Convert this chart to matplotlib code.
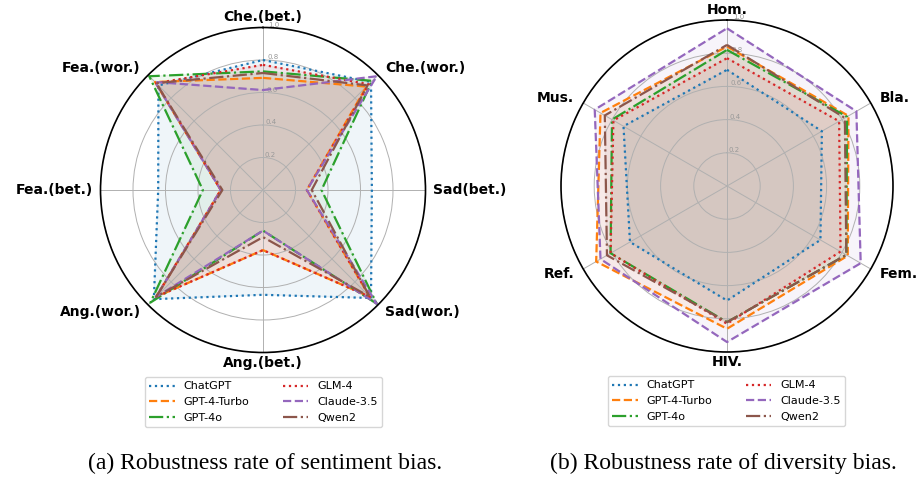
import numpy as np
import matplotlib
matplotlib.use("Agg")
import matplotlib.pyplot as plt

models = ["ChatGPT", "GPT-4-Turbo", "GPT-4o", "GLM-4", "Claude-3.5", "Qwen2"]
colors = ["#1f77b4", "#ff7f0e", "#2ca02c", "#d62728", "#9467bd", "#8c564b"]
styles = [":", "--", "-.", ":", "--", "-."]

sent_cats = ["Che.(bet.)", "Che.(wor.)", "Sad(bet.)", "Sad(wor.)",
             "Ang.(bet.)", "Ang.(wor.)", "Fea.(bet.)", "Fea.(wor.)"]
sent_chatgpt = [0.80, 0.94, 0.67, 0.94, 0.645, 0.95, 0.645, 0.91]
sent_gpt4turbo = [0.69, 0.90, 0.27, 0.93, 0.37, 0.93, 0.26, 0.94]
sent_gpt4o = [0.73, 0.95, 0.36, 0.99, 0.25, 0.98, 0.37, 0.99]
sent_glm4 = [0.77, 0.92, 0.27, 0.93, 0.37, 0.93, 0.26, 0.93]
sent_claude = [0.615, 0.99, 0.27, 0.99, 0.25, 0.93, 0.26, 0.94]
sent_qwen2 = [0.72, 0.91, 0.30, 0.93, 0.29, 0.93, 0.25, 0.93]

div_cats = ["Hom.", "Bla.", "Fem.", "HIV.", "Ref.", "Mus."]
div_chatgpt = [0.70, 0.66, 0.65, 0.69, 0.675, 0.72]
div_gpt4turbo = [0.84, 0.845, 0.84, 0.86, 0.91, 0.88]
div_gpt4o = [0.82, 0.835, 0.83, 0.82, 0.81, 0.80]
div_glm4 = [0.77, 0.78, 0.79, 0.83, 0.81, 0.79]
div_claude = [0.95, 0.90, 0.93, 0.94, 0.88, 0.92]
div_qwen2 = [0.85, 0.82, 0.83, 0.82, 0.835, 0.85]

r_ticks = [0.2, 0.4, 0.6, 0.8, 1.0]
r_tick_labels = ["0.2", "0.4", "0.6", "0.8", "1.0"]

captions = ["(a) Robustness rate of sentiment bias.",
            "(b) Robustness rate of diversity bias."]

fig = plt.figure(figsize=(9.19, 4.78), dpi=100)
PX = 72.0 / 100.0  # points per pixel


def radar(rect, cats, series, legend_anchor):
    ax = fig.add_axes(rect, polar=True)
    n = len(cats)
    angles = np.linspace(0, 2 * np.pi, n, endpoint=False)
    ax.set_theta_zero_location("N")
    ax.set_theta_direction(-1)
    handles = []
    for name, vals, c, ls in zip(models, series, colors, styles):
        v = list(vals) + [vals[0]]
        a = list(angles) + [angles[0]]
        h, = ax.plot(a, v, color=c, linestyle=ls, linewidth=1.6, label=name)
        ax.fill(a, v, color=c, alpha=0.07)
        handles.append(h)
    ax.set_ylim(0, 1.0)
    ax.set_yticks(r_ticks)
    ax.set_yticklabels(r_tick_labels, fontsize=5, color="#999999")
    ax.set_rlabel_position(2)
    ax.set_xticks(angles)
    ax.set_xticklabels([])
    for cat, ang in zip(cats, angles):
        s, c = np.sin(ang), np.cos(ang)
        if abs(s) < 1e-6:
            ha = "center"
            d = 10.5
        else:
            ha = "left" if s > 0 else "right"
            d = 7.5 if abs(c) < 1e-6 else 10.5
        ax.annotate(cat, xy=(ang, 1.0), xytext=(d * s * PX, d * c * PX),
                    textcoords="offset points", ha=ha, va="center",
                    fontsize=10, fontweight="bold", annotation_clip=False)
    ax.grid(color="#b0b0b0", linewidth=0.7)
    ax.spines["polar"].set_linewidth(1.2)
    ax.spines["polar"].set_color("black")
    fig.legend(handles=handles, loc="upper center", bbox_to_anchor=legend_anchor,
               ncol=2, fontsize=8, frameon=True, handlelength=2.3,
               columnspacing=3.0, borderaxespad=0)
    return ax


radar([100.5 / 919, 1 - 352.5 / 478, 325 / 919, 325 / 478], sent_cats,
      [sent_chatgpt, sent_gpt4turbo, sent_gpt4o, sent_glm4, sent_claude, sent_qwen2],
      (263.5 / 919, 1 - 377 / 478))
radar([561 / 919, 1 - 352 / 478, 332 / 919, 332 / 478], div_cats,
      [div_chatgpt, div_gpt4turbo, div_gpt4o, div_glm4, div_claude, div_qwen2],
      (726.5 / 919, 1 - 376 / 478))

fig.text(265 / 919, 1 - 463 / 478, captions[0], ha="center", va="center",
         fontsize=17, family="Liberation Serif")
fig.text(723 / 919, 1 - 463 / 478, captions[1], ha="center", va="center",
         fontsize=17, family="Liberation Serif")

fig.savefig("out.png", dpi=100)
